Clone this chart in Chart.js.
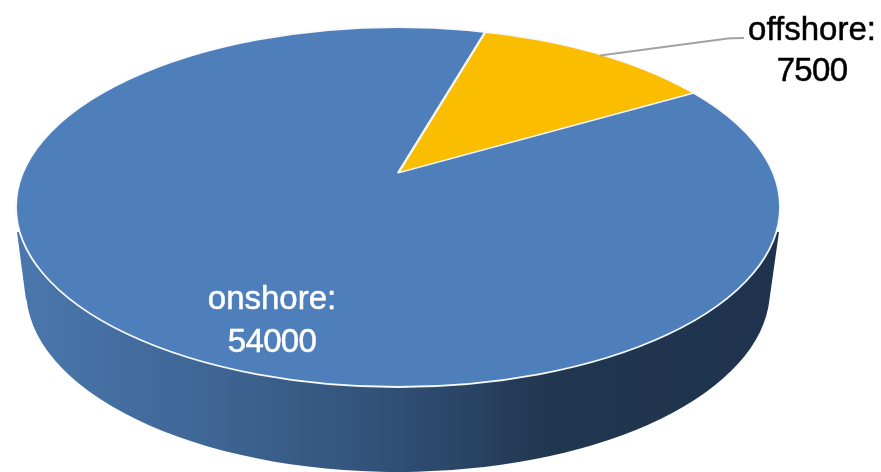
<!DOCTYPE html>
<html>
<head>
<meta charset="utf-8">
<title>offshore / onshore</title>
<script src="https://cdn.jsdelivr.net/npm/chart.js@4/dist/chart.umd.min.js"></script>
<style>
  html, body { margin: 0; padding: 0; background: #fff; overflow: hidden; }
  canvas { display: block; }
</style>
</head>
<body>
<canvas id="pie" width="881" height="472"></canvas>
<script>
const categories = ["offshore", "onshore"];
const capacity = [7500, 54000];
const sliceColors = ["#fbbd00", "#4e7fbb"];

// tilted disc geometry
const top_ = { x: 398, y: 207, rx: 382, ry: 180 };
const bottom = { x: 398, y: 290, rx: 372, ry: 182 };
const apex = { x: 398, y: 173 };
const squash = 0.47;

const labelSpots = [
  { x: 812, y: 40, dy: 41, color: "#000" },
  { x: 272, y: 309, dy: 43, color: "#fff" },
];

const tiltedPie = {
  id: "tiltedPie",
  beforeDatasetsDraw(chart) {
    const ctx = chart.ctx;

    // side wall
    const wall = ctx.createLinearGradient(17, 0, 779, 0);
    wall.addColorStop(0, "#4a77ad");
    wall.addColorStop(0.24, "#3f6796");
    wall.addColorStop(0.5, "#304f75");
    wall.addColorStop(0.7, "#21364f");
    wall.addColorStop(1, "#1f334e");
    ctx.save();
    ctx.beginPath();
    ctx.moveTo(top_.x - top_.rx + 1, 232);
    ctx.lineTo(bottom.x - bottom.rx, bottom.y + 10);
    ctx.ellipse(bottom.x, bottom.y, bottom.rx, bottom.ry, 0, Math.PI - 0.05, 0.05, true);
    ctx.lineTo(top_.x + top_.rx - 1, 232);
    ctx.lineTo(top_.x, top_.y);
    ctx.closePath();
    ctx.fillStyle = wall;
    ctx.fill();
    ctx.restore();

    // slices are cut by the top face, squashed around the off-centre apex
    const arc = chart.getDatasetMeta(0).data[0];
    ctx.save();
    ctx.beginPath();
    ctx.ellipse(top_.x, top_.y, top_.rx, top_.ry, 0, 0, Math.PI * 2);
    ctx.clip();
    ctx.translate(apex.x, apex.y);
    ctx.scale(1, squash);
    ctx.translate(-arc.x, -arc.y);
  },
  afterDatasetsDraw(chart) {
    const ctx = chart.ctx;
    ctx.restore();

    // rim
    ctx.save();
    ctx.beginPath();
    ctx.ellipse(top_.x, top_.y, top_.rx, top_.ry, 0, 0, Math.PI * 2);
    ctx.strokeStyle = "#f7f9fb";
    ctx.lineWidth = 1.8;
    ctx.stroke();

    // leader line for the small slice
    ctx.beginPath();
    ctx.moveTo(600, 55.5);
    ctx.lineTo(724, 39);
    ctx.quadraticCurveTo(730, 38, 744, 38);
    ctx.strokeStyle = "#a3a3a3";
    ctx.lineWidth = 2;
    ctx.stroke();

    // labels, slightly heavier than the plain face
    ctx.font = "33px 'Liberation Sans'";
    ctx.textAlign = "center";
    ctx.textBaseline = "alphabetic";
    ctx.lineWidth = 0.5;
    categories.forEach((name, i) => {
      const spot = labelSpots[i];
      ctx.fillStyle = spot.color;
      ctx.strokeStyle = spot.color;
      ctx.letterSpacing = "0px";
      ctx.fillText(name + ":", spot.x, spot.y);
      ctx.strokeText(name + ":", spot.x, spot.y);
      ctx.letterSpacing = "-0.7px";
      ctx.fillText(String(capacity[i]), spot.x, spot.y + spot.dy);
      ctx.strokeText(String(capacity[i]), spot.x, spot.y + spot.dy);
    });
    ctx.restore();
  },
};

new Chart(document.getElementById("pie"), {
  type: "pie",
  data: {
    labels: categories,
    datasets: [
      {
        data: capacity,
        backgroundColor: sliceColors,
        borderColor: "#f4f6f9",
        borderWidth: 2.4,
        radius: 640,
        clip: false,
      },
    ],
  },
  options: {
    responsive: false,
    animation: false,
    rotation: 16.2,
    plugins: { legend: { display: false }, tooltip: { enabled: false } },
  },
  plugins: [tiltedPie],
});
</script>
</body>
</html>
